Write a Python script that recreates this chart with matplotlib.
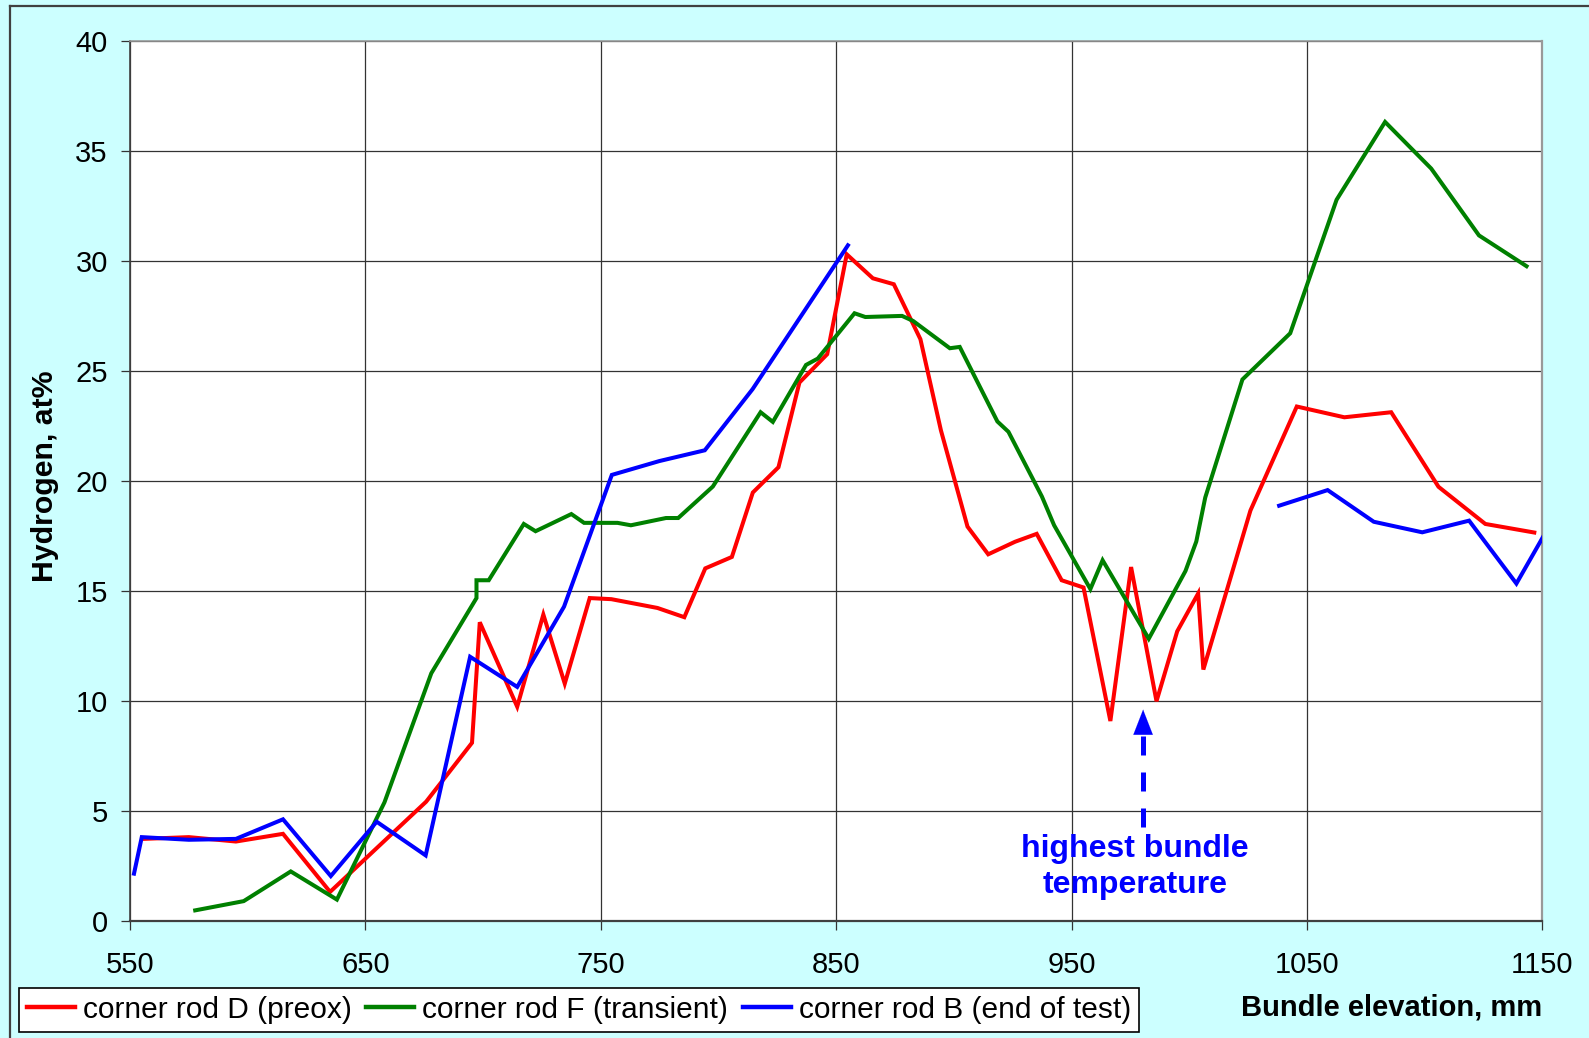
import numpy as np
import matplotlib
matplotlib.use("Agg")
import matplotlib.pyplot as plt
from matplotlib.lines import Line2D

plt.rcParams['font.family'] = ['Liberation Sans', 'DejaVu Sans']

# Hydrogen content along the bundle, corner rod D (pre-oxidation)
rod_d_x = [555.7, 575, 595, 615, 635, 675.8, 695.3, 698.6, 714.5, 725.6, 734.7,
           745.3, 754.5, 774.1, 785.5, 794.4, 805.7, 814.6, 825.5, 834.4, 846.2,
           854.5, 865.6, 874.5, 885.8, 894.5, 905.8, 914.6, 926, 935.2, 945.8,
           955.1, 966.5, 975.3, 986.1, 994.9, 1003.8, 1006, 1026, 1045.7, 1065.9,
           1085.8, 1105.9, 1125.8, 1146.6]
rod_d_h = [3.72, 3.80, 3.60, 3.95, 1.31, 5.41, 8.09, 13.57, 9.73, 13.92, 10.78,
           14.67, 14.62, 14.22, 13.80, 16.02, 16.54, 19.47, 20.62, 24.47, 25.76,
           30.3, 29.21, 28.94, 26.44, 22.3, 17.92, 16.66, 17.23, 17.59, 15.48,
           15.15, 9.08, 16.08, 9.98, 13.16, 14.88, 11.42, 18.65, 23.38, 22.89,
           23.12, 19.73, 18.04, 17.65]

# Corner rod F (withdrawn during transient)
rod_f_x = [577.7, 598.3, 618.3, 637.9, 658.1, 678.0, 697.2, 697.2, 702.4, 717.3,
           722.3, 737.5, 742.9, 757.1, 762.8, 777.7, 782.9, 797.6, 817.9, 823.1,
           837.2, 842.2, 857.8, 862.4, 878.0, 882.7, 898.3, 902.5, 918.5, 923.2,
           937.4, 942.6, 958, 963.2, 982.8, 998.4, 1003.0, 1006.8, 1022.6, 1042.9,
           1062.6, 1083.2, 1102.8, 1123.1, 1143.3]
rod_f_h = [0.47, 0.89, 2.24, 0.96, 5.38, 11.25, 14.67, 15.48, 15.48, 18.04,
           17.71, 18.49, 18.09, 18.09, 17.98, 18.31, 18.31, 19.74, 23.12, 22.68,
           25.27, 25.56, 27.62, 27.45, 27.5, 27.27, 26.03, 26.09, 22.7, 22.23,
           19.29, 17.98, 15.08, 16.39, 12.82, 15.9, 17.24, 19.24, 24.61, 26.71,
           32.78, 36.32, 34.2, 31.16, 29.76]

# Corner rod B (end of test); no data between 855 and 1038 mm
rod_b_x = [551.7, 555, 575, 595, 615, 635.3, 654.8, 675.6, 694.5, 714.5, 734.4,
           754.7, 774.9, 794.2, 814.5, 855, 946, 1038.2, 1058.8, 1078.4, 1099,
           1118.9, 1139, 1159]
rod_b_h = [2.14, 3.80, 3.68, 3.72, 4.61, 2.03, 4.50, 2.97, 12.0, 10.63, 14.28,
           20.27, 20.90, 21.39, 24.17, 30.71, np.nan, 18.87, 19.58, 18.14, 17.66,
           18.19, 15.33, 19.08]

series_labels = ['corner rod D (preox)', 'corner rod F (transient)',
                 'corner rod B (end of test)']
series_colors = ['#FF0000', '#008000', '#0000FF']

x_ticks = [550, 650, 750, 850, 950, 1050, 1150]
y_ticks = [0, 5, 10, 15, 20, 25, 30, 35, 40]

W, H = 1589, 1038
fig = plt.figure(figsize=(W / 100, H / 100), dpi=100)
fig.patch.set_facecolor('#CCFFFF')

# outer frame of the chart area
fig.add_artist(Line2D([10 / W, 10 / W], [0, 1 - 6 / H], transform=fig.transFigure,
                      color='#404040', lw=1.6))
fig.add_artist(Line2D([10 / W, 1], [1 - 6 / H, 1 - 6 / H], transform=fig.transFigure,
                      color='#404040', lw=1.6))

left, right, top, bottom = 130, 1542.3, 41, 920.7
ax = fig.add_axes([left / W, 1 - bottom / H, (right - left) / W, (bottom - top) / H])
ax.set_facecolor('white')

for xs, ys, c, lab in zip([rod_d_x, rod_f_x, rod_b_x], [rod_d_h, rod_f_h, rod_b_h],
                          series_colors, series_labels):
    ax.plot(xs, ys, color=c, lw=2.9, label=lab, solid_joinstyle='miter', zorder=3)

ax.set_xlim(550, 1150)
ax.set_ylim(0, 40)
ax.set_xticks(x_ticks)
ax.set_yticks(y_ticks)
ax.grid(True, color='#333333', lw=0.9, zorder=0)
ax.set_axisbelow(True)

ax.tick_params(axis='both', direction='out', length=6.5, width=0.9, color='#333333',
               labelsize=21)
ax.tick_params(axis='x', pad=15.5)
ax.tick_params(axis='y', pad=9.5)

ax.spines['left'].set_color('#404040')
ax.spines['left'].set_linewidth(1.2)
ax.spines['bottom'].set_color('#404040')
ax.spines['bottom'].set_linewidth(1.6)
ax.spines['top'].set_color('#999999')
ax.spines['top'].set_linewidth(1.2)
ax.spines['right'].set_color('#999999')
ax.spines['right'].set_linewidth(1.6)

ax.set_ylabel('Hydrogen, at%', fontsize=21.8, fontweight='bold')
ax.yaxis.label.set_va('center')
ax.yaxis.set_label_coords(-0.0602, 0.505)

ax.set_xlabel('Bundle elevation, mm', fontsize=21, fontweight='bold')
ax.xaxis.label.set_ha('right')
ax.xaxis.label.set_va('center')
ax.xaxis.set_label_coords(1.0, -0.0985)

# marker for the elevation of the highest bundle temperature
arrow_x = 980.4
ax.plot([arrow_x, arrow_x], [4.24, 8.7], color='#0000FF', lw=3.6,
        dashes=(3.8, 3.4), solid_capstyle='butt', dash_capstyle='butt', zorder=4)
ax.annotate('', xy=(arrow_x, 9.6), xytext=(arrow_x, 8.5),
            arrowprops=dict(arrowstyle='-|>,head_length=0.9,head_width=0.35',
                            color='#0000FF', lw=0.1, shrinkA=0, shrinkB=0,
                            mutation_scale=20), zorder=4)
ax.text(976.9, 2.46, 'highest bundle\ntemperature', color='#0000FF', fontsize=23,
        fontweight='bold', ha='center', va='center', linespacing=1.26, zorder=5)

leg = fig.legend(loc='lower left', bbox_to_anchor=(19 / W, 6.3 / H), ncol=3,
                 fontsize=21.5, frameon=True, fancybox=False, edgecolor='black',
                 framealpha=1, borderpad=0.26, handlelength=1.6, handletextpad=0.27,
                 columnspacing=0.5, borderaxespad=0)
leg.get_frame().set_linewidth(1.2)
for h in leg.legend_handles:
    h.set_linewidth(3.2)

fig.savefig('out.png', dpi=100, facecolor=fig.get_facecolor())
